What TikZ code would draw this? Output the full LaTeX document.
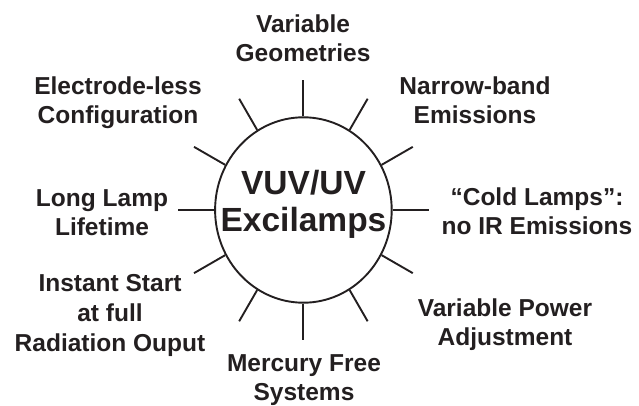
\documentclass[tikz,border=0pt]{standalone}
\usepackage{fontspec}
\setmainfont{Liberation Sans}
\usepackage{tikz}
\usetikzlibrary{shapes.geometric}

\definecolor{ink}{RGB}{35,31,32}

\begin{document}
\begin{tikzpicture}[x=1pt, y=1pt, ink,
    feature/.style={draw=none, align=center, anchor=base, inner sep=0pt,
        font=\bfseries\fontsize{24.5}{29}\selectfont},
    ray/.style={line width=1.9pt}]
             \useasboundingbox (0,0) rectangle (639,405);

             \node[ellipse, draw, line width=1.9pt, minimum width=176.6pt, minimum height=185.4pt,
                   inner sep=0pt] (lamps) at (303.4,195) {};
             \node[draw=none, align=center, anchor=base, inner sep=0pt,
                   font=\bfseries\fontsize{33.5}{37.7}\selectfont] (title) at (303.5,173.3) {VUV/UV\\Excilamps};

             \foreach \a in {0,30,...,330}
                 \draw[ray] (lamps.\a) -- ++(\a:36);

             \node[feature] (geom) at (303,343.3) {Variable\\Geometries};
             \node[feature] (electrode) at (118,281.7) {Electrode-less\\Configuration};
             \node[feature] (narrow) at (475,281.7) {Narrow-band\\Emissions};
             \node[feature] (cold) at (537,171) {“Cold Lamps”:\\no IR Emissions};
             \node[feature] (lifetime) at (102,170) {Long Lamp\\Lifetime};
             \node[feature, font=\bfseries\fontsize{24.5}{30}\selectfont] (instant) at (110,53.3) {Instant Start\\at full\\Radiation Ouput};
             \node[feature] (mercury) at (304,5) {Mercury Free\\Systems};
             \node[feature] (power) at (505,60) {Variable Power\\Adjustment};
             \end{tikzpicture}
\end{document}
